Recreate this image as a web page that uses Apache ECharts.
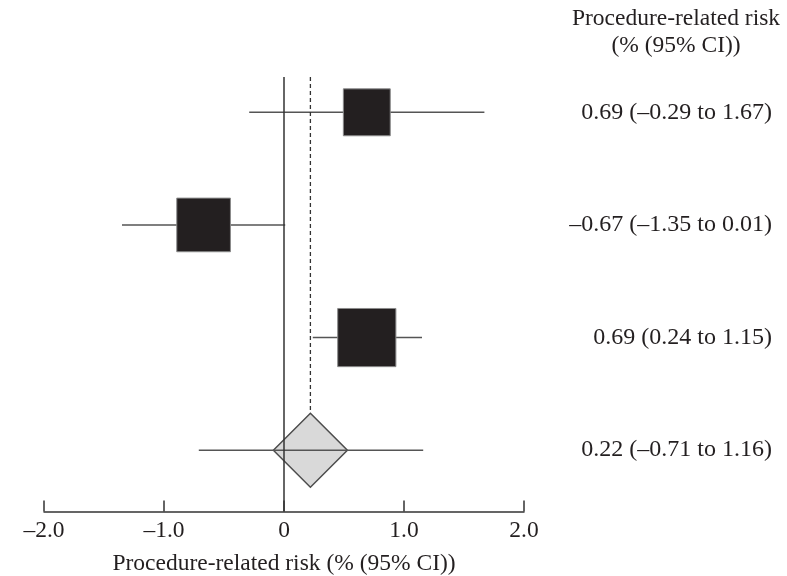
<!DOCTYPE html>
<html>
<head>
<meta charset="utf-8">
<script src="https://cdn.jsdelivr.net/npm/echarts@6/dist/echarts.min.js"></script>
<style>
  html, body { margin: 0; padding: 0; background: #fff; }
  #chart { width: 787px; height: 576px; }
</style>
</head>
<body>
<div id="chart"></div>
<script>
// Individual study results: procedure-related risk (%) with 95% CI
const estimates = [0.69, -0.67, 0.69];
const lowerCI   = [-0.29, -1.35, 0.24];
const upperCI   = [1.67, 0.01, 1.15];
const weights   = [26, 34, 40];          // relative study weights (%), box area follows weight

// Pooled estimate
const pooledEstimate = 0.22;
const pooledLower    = -0.71;
const pooledUpper    = 1.16;

// X axis ticks
const xTicks      = [-2, -1, 0, 1, 2];
const xTickLabels = ['–2.0', '–1.0', '0', '1.0', '2.0'];

const FONT = '"Liberation Serif", "DejaVu Serif", serif';
const INK = '#231f20';
const LINE = '#555555';
const DIAMOND_SIZE = 74;
const BOX_SCALE = 9.2;
const AXIS_OFFSET = 5;

const fmt = v => (v < 0 ? '–' : '') + Math.abs(v).toFixed(2);

const allEst = estimates.concat([pooledEstimate]);
const allLo  = lowerCI.concat([pooledLower]);
const allHi  = upperCI.concat([pooledUpper]);
const rowLabels = allEst.map((e, i) => `${fmt(e)} (${fmt(allLo[i])} to ${fmt(allHi[i])})`);
const pooledRow = estimates.length;

function ciLine(params, api) {
  const a = api.coord([api.value(0), api.value(2)]);
  const b = api.coord([api.value(1), api.value(2)]);
  return {
    type: 'line',
    shape: { x1: a[0], y1: a[1], x2: b[0], y2: b[1] },
    style: { stroke: LINE, lineWidth: 1.5 }
  };
}

const chart = echarts.init(document.getElementById('chart'), null, { renderer: 'canvas' });

chart.setOption({
  animation: false,
  backgroundColor: '#ffffff',
  grid: { left: 44, right: 263, top: 56, bottom: 69.5, outerBoundsMode: 'none', containLabel: false },
  graphic: [{
    type: 'text',
    x: 676,
    y: 5,
    style: {
      text: 'Procedure-related risk\n(% (95% CI))',
      textAlign: 'center',
      font: '23.5px ' + FONT,
      lineHeight: 27,
      fill: INK
    }
  }],
  xAxis: {
    type: 'value',
    min: -2,
    max: 2,
    interval: 1,
    offset: AXIS_OFFSET,
    name: 'Procedure-related risk (% (95% CI))',
    nameLocation: 'middle',
    nameGap: 40,
    nameTextStyle: { fontFamily: FONT, fontSize: 23.5, color: INK },
    axisLine: { show: true, onZero: false, lineStyle: { color: '#333', width: 1.5 } },
    axisTick: { show: true, inside: true, length: 11, lineStyle: { color: '#333', width: 1.5 } },
    axisLabel: {
      fontFamily: FONT, fontSize: 23.5, color: INK, margin: 7,
      formatter: v => {
        const i = xTicks.indexOf(v);
        return i >= 0 ? xTickLabels[i] : '';
      }
    },
    splitLine: { show: false }
  },
  yAxis: {
    type: 'category',
    inverse: true,
    position: 'right',
    data: rowLabels,
    axisLine: { show: false },
    axisTick: { show: false },
    splitLine: { show: false },
    axisLabel: {
      align: 'right',
      margin: 248,
      fontFamily: FONT,
      fontSize: 24,
      color: INK
    }
  },
  series: [
    {
      name: 'study CI',
      type: 'custom',
      z: 1,
      renderItem: ciLine,
      encode: { x: [0, 1], y: 2 },
      data: estimates.map((e, i) => [lowerCI[i], upperCI[i], i])
    },
    {
      name: 'studies',
      type: 'scatter',
      z: 2,
      symbol: 'rect',
      symbolSize: d => BOX_SCALE * Math.sqrt(d[2]),
      itemStyle: { color: INK, borderColor: '#8a8a8a', borderWidth: 1, opacity: 1 },
      data: estimates.map((e, i) => [e, i, weights[i]])
    },
    {
      name: 'pooled',
      type: 'scatter',
      z: 3,
      symbol: 'diamond',
      symbolSize: DIAMOND_SIZE,
      itemStyle: { color: '#d9d9d9', borderColor: '#4d4d4d', borderWidth: 1.5, opacity: 1 },
      data: [[pooledEstimate, pooledRow]]
    },
    {
      name: 'pooled CI',
      type: 'custom',
      z: 4,
      renderItem: ciLine,
      encode: { x: [0, 1], y: 2 },
      data: [[pooledLower, pooledUpper, pooledRow]]
    },
    {
      name: 'reference lines',
      type: 'custom',
      z: 5,
      encode: { x: 0, y: 1 },
      data: [[0, pooledRow, pooledEstimate]],
      renderItem: (params, api) => {
        const cs = params.coordSys;
        const top = cs.y + 21;
        const axisY = cs.y + cs.height + AXIS_OFFSET;
        const zeroX = api.coord([0, 0])[0];
        const pooledPt = api.coord([api.value(2), api.value(1)]);
        return {
          type: 'group',
          children: [
            {
              type: 'line',
              shape: { x1: zeroX, y1: top, x2: zeroX, y2: axisY },
              style: { stroke: '#333', lineWidth: 1.5 }
            },
            {
              type: 'line',
              shape: { x1: pooledPt[0], y1: top, x2: pooledPt[0], y2: pooledPt[1] - DIAMOND_SIZE / 2 },
              style: { stroke: '#333', lineWidth: 1.3, lineDash: [4, 3] }
            }
          ]
        };
      }
    }
  ]
});
</script>
</body>
</html>
